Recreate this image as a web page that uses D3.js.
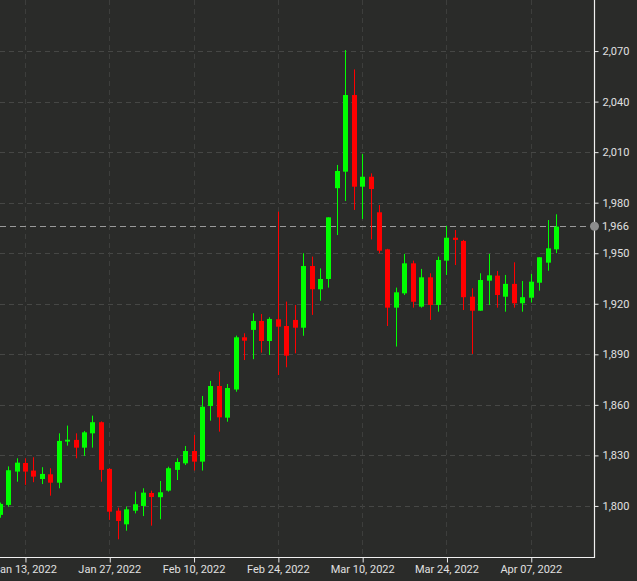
<!DOCTYPE html>
<html>
<head>
<meta charset="utf-8">
<script src="https://cdn.jsdelivr.net/npm/d3@7"></script>
<style>
  html, body { margin: 0; padding: 0; background: #2a2b29; }
  svg { display: block; }
</style>
</head>
<body>
<svg id="chart" width="637" height="581"></svg>
<script>
const dates = ["Jan 10","Jan 11","Jan 12","Jan 13","Jan 14","Jan 17","Jan 18","Jan 19","Jan 20","Jan 21",
  "Jan 24","Jan 25","Jan 26","Jan 27","Jan 28","Jan 31","Feb 01","Feb 02","Feb 03","Feb 04",
  "Feb 07","Feb 08","Feb 09","Feb 10","Feb 11","Feb 14","Feb 15","Feb 16","Feb 17","Feb 18",
  "Feb 21","Feb 22","Feb 23","Feb 24","Feb 25","Feb 28","Mar 01","Mar 02","Mar 03","Mar 04",
  "Mar 07","Mar 08","Mar 09","Mar 10","Mar 11","Mar 14","Mar 15","Mar 16","Mar 17","Mar 18",
  "Mar 21","Mar 22","Mar 23","Mar 24","Mar 25","Mar 28","Mar 29","Mar 30","Mar 31","Apr 01",
  "Apr 04","Apr 05","Apr 06","Apr 07","Apr 08","Apr 11","Apr 12"];
const open = [1794.7,1800.6,1820.4,1825.5,1821.0,1816.0,1818.8,1813.8,1838.2,1839.2,
  1834.6,1843.1,1849.7,1822.0,1797.2,1789.1,1797.2,1800.0,1807.7,1805.2,
  1809.1,1821.4,1825.3,1832.6,1826.3,1859.3,1871.2,1852.4,1869.1,1900.1,
  1904.5,1909.8,1897.9,1910.8,1906.8,1910.4,1905.8,1942.4,1928.6,1934.7,
  1988.6,1998.4,2043.9,1989.5,1995.4,1974.3,1952.3,1917.7,1926.2,1944.0,
  1918.3,1935.7,1919.3,1945.6,1959.2,1957.3,1924.2,1915.9,1933.7,1936.7,
  1924.2,1931.8,1920.3,1923.6,1932.5,1944.4,1952.3];
const high = [1802.0,1823.5,1828.3,1828.3,1828.9,1823.0,1822.4,1843.1,1847.7,1843.1,
  1844.5,1853.6,1850.2,1822.5,1799.0,1799.6,1808.5,1810.5,1809.1,1814.8,
  1823.3,1828.3,1835.6,1842.1,1865.3,1874.2,1879.7,1872.4,1901.1,1902.5,
  1914.4,1913.9,1912.0,1974.7,1921.3,1919.3,1950.0,1948.0,1941.0,1971.3,
  2002.4,2070.6,2059.1,2008.9,1997.4,1978.6,1952.6,1929.6,1949.6,1945.6,
  1940.7,1938.1,1948.0,1966.2,1963.8,1957.9,1929.2,1938.1,1949.6,1939.5,
  1937.1,1944.6,1933.5,1937.7,1947.6,1969.7,1973.1];
const low = [1793.0,1799.5,1814.4,1812.5,1814.1,1813.0,1806.1,1810.5,1835.8,1828.3,
  1829.7,1834.6,1814.4,1791.7,1780.2,1785.3,1795.6,1794.0,1788.3,1792.1,
  1808.5,1815.4,1824.3,1821.0,1821.0,1850.6,1844.1,1850.0,1867.8,1886.6,
  1887.1,1891.0,1889.6,1877.7,1882.3,1890.6,1901.0,1913.4,1921.8,1929.6,
  1960.8,1981.0,1975.7,1970.3,1958.2,1950.0,1906.8,1894.6,1925.2,1917.7,
  1917.7,1910.4,1915.3,1937.1,1943.0,1916.3,1890.2,1915.9,1919.3,1917.7,
  1915.3,1917.7,1915.3,1920.7,1927.8,1939.6,1950.0];
const close = [1801.2,1821.2,1825.7,1820.4,1817.4,1819.0,1813.8,1838.6,1839.3,1834.6,
  1843.7,1849.7,1821.4,1796.6,1791.1,1798.0,1801.0,1807.9,1805.3,1808.1,
  1822.4,1826.1,1832.6,1826.3,1858.9,1871.2,1852.6,1870.0,1900.1,1898.1,
  1909.8,1897.9,1911.0,1906.4,1889.2,1905.8,1942.4,1928.6,1934.7,1971.3,
  1998.8,2043.9,1989.5,1995.4,1988.1,1951.5,1917.7,1926.8,1944.0,1921.2,
  1935.7,1919.3,1946.0,1959.2,1957.9,1923.9,1915.9,1934.1,1936.9,1925.2,
  1931.8,1920.3,1923.9,1933.1,1947.6,1952.9,1965.8];
const xTickLabels = ["Jan 13, 2022","Jan 27, 2022","Feb 10, 2022","Feb 24, 2022","Mar 10, 2022","Mar 24, 2022","Apr 07, 2022"];
const xTickDates = ["Jan 13","Jan 27","Feb 10","Feb 24","Mar 10","Mar 24","Apr 07"];
const yTicks = [1800,1830,1860,1890,1920,1950,1980,2010,2040,2070];
const lastPrice = 1966;

const W = 637, H = 581;
const plotR = 594, plotB = 557;
const svg = d3.select("#chart");
svg.append("rect").attr("width", W).attr("height", H).attr("fill", "#2a2b29");

const x = d3.scaleLinear().domain([0.04, 70.5]).range([0, plotR]);
const y = d3.scaleLinear().domain([1769.7, 2100.3]).range([plotB, 0]);

const data = dates.map((d, i) => ({d, i, o: open[i], h: high[i], l: low[i], c: close[i]}));

// grid
const grid = svg.append("g");
grid.selectAll("line.hg").data(yTicks).enter().append("line")
  .attr("x1", 0).attr("x2", plotR)
  .attr("y1", d => Math.round(y(d)) + 0.5).attr("y2", d => Math.round(y(d)) + 0.5)
  .attr("stroke", "#464745").attr("stroke-dasharray", "5,4").attr("stroke-width", 1);
const tickIdx = xTickDates.map(t => dates.indexOf(t));
grid.selectAll("line.vg").data(tickIdx).enter().append("line")
  .attr("y1", 0).attr("y2", plotB)
  .attr("x1", d => Math.round(x(d)) + 0.5).attr("x2", d => Math.round(x(d)) + 0.5)
  .attr("stroke", "#3d3e3c").attr("stroke-dasharray", "5,4").attr("stroke-width", 1);

// last price line
svg.append("line")
  .attr("x1", 0).attr("x2", plotR)
  .attr("y1", Math.round(y(lastPrice)) + 0.5).attr("y2", Math.round(y(lastPrice)) + 0.5)
  .attr("stroke", "#9a9a9a").attr("stroke-dasharray", "6,4").attr("stroke-width", 1);

// candles
const cw = 5;
const cg = svg.append("g");
const col = d => d.c >= d.o ? "#00ff00" : "#ff0000";
cg.selectAll("line.wick").data(data).enter().append("line")
  .attr("x1", d => Math.round(x(d.i)) + 0.5).attr("x2", d => Math.round(x(d.i)) + 0.5)
  .attr("y1", d => y(d.h)).attr("y2", d => y(d.l))
  .attr("stroke", col).attr("stroke-width", 1);
cg.selectAll("rect.body").data(data).enter().append("rect")
  .attr("x", d => Math.round(x(d.i)) + 0.5 - cw / 2)
  .attr("width", cw)
  .attr("y", d => y(Math.max(d.o, d.c)))
  .attr("height", d => Math.max(1.5, Math.abs(y(d.o) - y(d.c))))
  .attr("fill", col);

// cover area right of plot
svg.append("rect").attr("x", plotR).attr("y", 0).attr("width", W - plotR).attr("height", H).attr("fill", "#2a2b29");
svg.append("rect").attr("x", 0).attr("y", plotB).attr("width", W).attr("height", H - plotB).attr("fill", "#2a2b29");

// axes
const fmt = d3.format(",");
const yAxis = d3.axisRight(y).tickValues(yTicks).tickSize(4).tickPadding(4).tickFormat(fmt);
const gy = svg.append("g").attr("transform", `translate(${plotR + 0.5},0)`).call(yAxis);
const xAxis = d3.axisBottom(x).tickValues(tickIdx).tickSize(5).tickPadding(3)
  .tickFormat((d, k) => xTickLabels[k]);
const gx = svg.append("g").attr("transform", `translate(0,${plotB + 0.5})`).call(xAxis);
[gy, gx].forEach(g => {
  g.select(".domain").remove();
  g.selectAll(".tick line").attr("stroke", "#e8e8e8");
  g.selectAll(".tick text").attr("fill", "#e0e0e0")
    .style("font-family", "Roboto, 'Noto Sans', sans-serif").style("font-size", "11px");
});
gx.selectAll(".tick line").attr("x1", 0.5).attr("x2", 0.5);
svg.append("line").attr("x1", plotR + 0.5).attr("x2", plotR + 0.5).attr("y1", 0).attr("y2", plotB + 1)
  .attr("stroke", "#f0f0f0").attr("stroke-width", 1.2);
svg.append("line").attr("x1", 0).attr("x2", plotR + 1).attr("y1", plotB + 0.5).attr("y2", plotB + 0.5)
  .attr("stroke", "#f0f0f0").attr("stroke-width", 1.2);

// last price marker and label
svg.append("circle").attr("cx", plotR + 0.5).attr("cy", y(lastPrice)).attr("r", 4.5).attr("fill", "#8c8c8c");
svg.append("text").attr("x", plotR + 8).attr("y", y(lastPrice)).attr("dy", "0.35em")
  .attr("fill", "#e0e0e0").style("font-family", "Roboto, 'Noto Sans', sans-serif").style("font-size", "11px")
  .text(fmt(lastPrice));
</script>
</body>
</html>
